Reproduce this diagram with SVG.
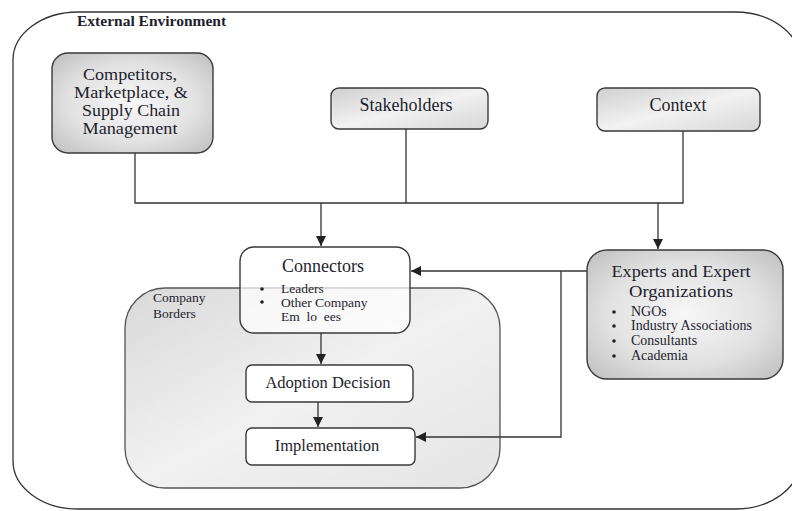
<svg xmlns="http://www.w3.org/2000/svg" width="792" height="511" viewBox="0 0 792 511">
<defs>
<radialGradient id="gBox" cx="50%" cy="50%" r="65%">
<stop offset="0" stop-color="#f7f7f7"/>
<stop offset="0.6" stop-color="#e2e2e2"/>
<stop offset="1" stop-color="#c4c4c4"/>
</radialGradient>
<linearGradient id="gFlat" x1="0" y1="0" x2="1" y2="1">
<stop offset="0" stop-color="#cfcfcf"/>
<stop offset="0.5" stop-color="#f2f2f2"/>
<stop offset="1" stop-color="#d6d6d6"/>
</linearGradient>
<linearGradient id="gCompany" x1="0" y1="0" x2="1" y2="1">
<stop offset="0" stop-color="#d9d9d9"/>
<stop offset="0.5" stop-color="#f1f1f1"/>
<stop offset="1" stop-color="#e4e4e4"/>
</linearGradient>
<marker id="arr" viewBox="0 0 10 10" refX="10" refY="5" markerWidth="10" markerHeight="10" markerUnits="userSpaceOnUse" orient="auto">
<path d="M0,0 L10,5 L0,10 Z" fill="#222"/>
</marker>
</defs>
<style>
text{font-family:"Liberation Serif","Times New Roman",serif;fill:#1e1e2e;}
.box{stroke:#3a3a3a;stroke-width:1.4;}
.t{font-size:18px;text-anchor:middle;}
.c{font-size:16px;text-anchor:middle;}
.m{font-size:16.5px;text-anchor:middle;}
.s{font-size:13.5px;}
.e{font-size:14px;}
.ln{fill:none;stroke:#333;stroke-width:1.3;}
</style>
<g id="external-environment">
<rect x="13" y="12" width="787" height="497" rx="65" ry="48" fill="#fff" stroke="#333" stroke-width="1.3"/>
<text x="77" y="26" style="font-size:15.5px;font-weight:bold">External Environment</text>
</g>
<g id="company-borders">
<rect x="125" y="288" width="375" height="200" rx="40" ry="40" fill="url(#gCompany)" stroke="#555" stroke-width="1.3"/>
<text x="153" y="302" style="font-size:13.5px">Company</text>
<text x="153" y="318" style="font-size:13.5px">Borders</text>
</g>
<g id="competitors">
<rect class="box" x="52" y="53" width="161" height="100" rx="16" fill="url(#gBox)"/>
<text class="c" x="130" y="80" textLength="94" lengthAdjust="spacingAndGlyphs">Competitors,</text>
<text class="c" x="131" y="98" textLength="114" lengthAdjust="spacingAndGlyphs">Marketplace, &amp;</text>
<text class="c" x="131" y="116" textLength="98" lengthAdjust="spacingAndGlyphs">Supply Chain</text>
<text class="c" x="130" y="134" textLength="95" lengthAdjust="spacingAndGlyphs">Management</text>
</g>
<g id="stakeholders">
<rect class="box" x="331" y="88" width="157" height="41" rx="8" fill="url(#gFlat)"/>
<text class="t" x="406" y="111">Stakeholders</text>
</g>
<g id="context">
<rect class="box" x="597" y="88" width="163" height="43" rx="8" fill="url(#gFlat)"/>
<text class="t" x="678" y="111">Context</text>
</g>
<g id="connectors-node">
<rect class="box" x="240" y="247" width="170" height="86" rx="14" fill="#fff" fill-opacity="0.72"/>
<text class="t" x="323" y="272">Connectors</text>
<circle cx="262" cy="289" r="1.8" fill="#222"/>
<text class="s" x="281" y="293">Leaders</text>
<circle cx="262" cy="302" r="1.8" fill="#222"/>
<text class="s" x="281" y="307">Other Company</text>
<text class="s" x="281" y="321">Em&#160;&#160;lo&#160;&#160;ees</text>
</g>
<g id="adoption-decision">
<rect class="box" x="246" y="365" width="167" height="37" rx="6" fill="#fff"/>
<text class="m" x="328" y="388">Adoption Decision</text>
</g>
<g id="implementation">
<rect class="box" x="246" y="428" width="169" height="37" rx="6" fill="#fff"/>
<text class="m" x="327" y="451">Implementation</text>
</g>
<g id="experts">
<rect class="box" x="587" y="250" width="196" height="129" rx="20" fill="url(#gBox)"/>
<text class="c" x="681" y="277" textLength="139" lengthAdjust="spacingAndGlyphs">Experts and Expert</text>
<text class="c" x="681" y="297" textLength="104" lengthAdjust="spacingAndGlyphs">Organizations</text>
<circle cx="614" cy="312" r="1.8" fill="#222"/>
<text class="e" x="631" y="316">NGOs</text>
<circle cx="614" cy="326" r="1.8" fill="#222"/>
<text class="e" x="631" y="330">Industry Associations</text>
<circle cx="614" cy="341" r="1.8" fill="#222"/>
<text class="e" x="631" y="345">Consultants</text>
<circle cx="614" cy="356" r="1.8" fill="#222"/>
<text class="e" x="631" y="360">Academia</text>
</g>
<g id="connectors">
<path class="ln" d="M135,153 V203 H683 V131"/>
<path class="ln" d="M406,129 V203"/>
<path class="ln" d="M321,203 V246" marker-end="url(#arr)"/>
<path class="ln" d="M658,203 V249" marker-end="url(#arr)"/>
<path class="ln" d="M587,271 H411" marker-end="url(#arr)"/>
<path class="ln" d="M561,271 V437 H416" marker-end="url(#arr)"/>
<path class="ln" d="M321,333 V364" marker-end="url(#arr)"/>
<path class="ln" d="M318,402 V427" marker-end="url(#arr)"/>
</g>
</svg>
